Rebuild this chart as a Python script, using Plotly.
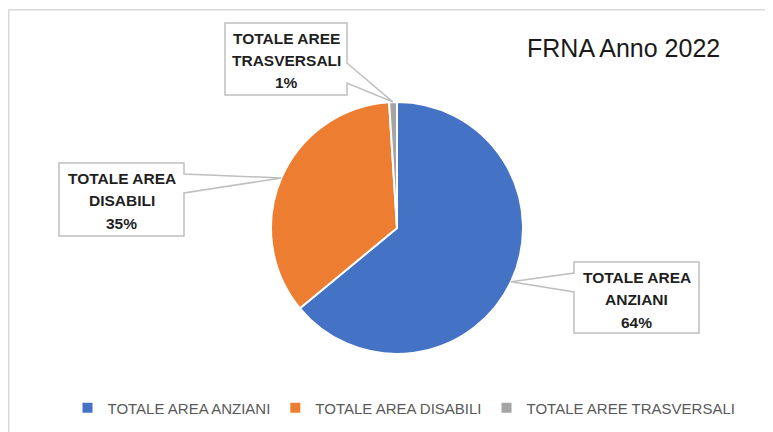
import math
import plotly.graph_objects as go

# ---- data ----
categories = ["TOTALE AREA ANZIANI", "TOTALE AREA DISABILI", "TOTALE AREE TRASVERSALI"]
values = [64, 35, 1]
colors = ["#4472C4", "#ED7D31", "#A5A5A5"]
title_text = "FRNA Anno 2022"

# ---- layout constants (pixels, in window coordinates) ----
OFF = 8                      # page body margin
W, H = 773 - OFF, 432 - OFF  # figure size
CX, CY, R = 397, 228, 126
# callout boxes: x0, y0, x1, y1, side of wedge, wedge base offsets from top
boxes = [
    (574, 262, 699, 333, "left", 11, 30),
    (59, 163, 184, 236, "right", 11, 30),
    (225, 23, 347, 95, "right", 40, 60),
]


def px(x):
    return (x - OFF) / W


def py(y):
    return 1 - (y - OFF) / H


fig = go.Figure()
fig.add_trace(go.Pie(
    labels=categories,
    values=values,
    sort=False,
    direction="clockwise",
    rotation=0,
    marker=dict(colors=colors, line=dict(color="white", width=2)),
    textinfo="none",
    hoverinfo="label+percent",
    domain=dict(x=[px(CX - R), px(CX + R)], y=[py(CY + R), py(CY - R)]),
))

shapes = []
annotations = []
total = sum(values)
cum = 0.0
for cat, v, box in zip(categories, values, boxes):
    mid = (cum + v / 2) / total * 2 * math.pi
    cum += v
    ax = CX + R * math.sin(mid)
    ay = CY - R * math.cos(mid)
    x0, y0, x1, y1, side, o1, o2 = box
    if side == "right":
        pts = [(x0, y0), (x1, y0), (x1, y0 + o1), (ax, ay), (x1, y0 + o2), (x1, y1), (x0, y1)]
    else:
        pts = [(x0, y0), (x1, y0), (x1, y1), (x0, y1), (x0, y0 + o2), (ax, ay), (x0, y0 + o1)]
    path = "M " + " L ".join(f"{px(a):.5f},{py(b):.5f}" for a, b in pts) + " Z"
    shapes.append(dict(type="path", xref="paper", yref="paper", path=path,
                       fillcolor="white", line=dict(color="#BFBFBF", width=1.5), layer="above"))
    words = cat.split(" ")
    lines = [" ".join(words[:2]), " ".join(words[2:]), f"{round(v / total * 100)}%"]
    for i, t in enumerate(lines):
        annotations.append(dict(
            x=px((x0 + x1) / 2), y=py(y0 + 15 + 22.5 * i), xref="paper", yref="paper",
            text=f"<b>{t}</b>", showarrow=False, xanchor="center", yanchor="middle",
            font=dict(family="Liberation Sans, Arial, sans-serif", size=15.5, color="#1F1F1F"),
        ))

# outer chart border
shapes.insert(0, dict(type="rect", xref="paper", yref="paper",
                      x0=px(8.8), y0=py(450), x1=px(790), y1=py(9.8),
                      line=dict(color="#D9D9D9", width=1.5), fillcolor="rgba(0,0,0,0)", layer="below"))

annotations.append(dict(
    x=px(623), y=py(48), xref="paper", yref="paper", text=title_text, showarrow=False,
    xanchor="center", yanchor="middle",
    font=dict(family="Liberation Sans, Arial, sans-serif", size=25, color="#1A1A1A"),
))

fig.update_layout(
    width=W, height=H,
    margin=dict(l=0, r=0, t=0, b=0),
    paper_bgcolor="white", plot_bgcolor="white",
    showlegend=True,
    legend=dict(orientation="h", x=px(404), xanchor="center", y=py(408), yanchor="middle",
                font=dict(family="Liberation Sans, Arial, sans-serif", size=15, color="#595959"),
                itemclick=False, traceorder="normal"),
    shapes=shapes,
    annotations=annotations,
)

fig.write_html("out.html")
